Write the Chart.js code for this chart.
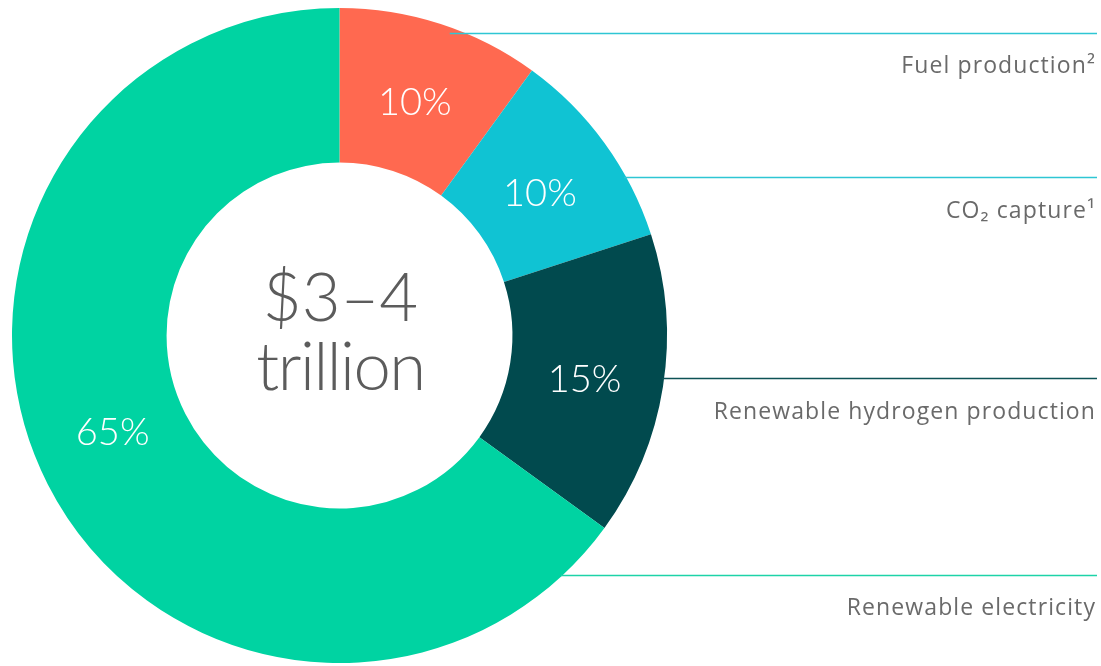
<!DOCTYPE html>
<html>
<head>
<meta charset="utf-8">
<script src="https://cdn.jsdelivr.net/npm/chart.js@4/dist/chart.umd.min.js"></script>
<style>
  html, body { margin: 0; padding: 0; background: #ffffff; }
  #wrap { position: relative; width: 1101px; height: 666px; }
</style>
</head>
<body>
<div id="wrap"><canvas id="c" width="1101" height="666"></canvas></div>
<script>
// Investment split by component
const categories = ['Fuel production²', 'CO₂ capture¹', 'Renewable hydrogen production', 'Renewable electricity'];
const shares = [10, 10, 15, 65];
const sliceColors = ['#ff6950', '#10c3d3', '#014a4e', '#00d3a2'];
const leaderColors = ['#2ec6d4', '#2ec6d4', '#0d5256', '#1dd3a8'];
const centerLines = ['$3–4', 'trillion'];

const FACE = 'Lato, "Open Sans", sans-serif';

// Value labels inside each slice, right-hand labels with leader lines, centre total
const overlay = {
  id: 'overlay',
  afterDatasetsDraw(chart) {
    const ctx = chart.ctx;
    const meta = chart.getDatasetMeta(0);
    const W = chart.width;
    const first = meta.data[0];
    const cx = first.x, cy = first.y;
    const R = first.outerRadius;

    // leader lines and category names, rows spaced down the right side
    const lineYs = [cy - R * 0.924, cy - R * 0.484, cy + R * 0.13, cy + R * 0.731];
    ctx.save();
    categories.forEach((name, i) => {
      const y = lineYs[i];
      const dy = y - cy;
      const xEdge = cx + Math.sqrt(Math.max(0, R * R - dy * dy)) - (i === 0 ? 15 : 2);
      ctx.strokeStyle = leaderColors[i];
      ctx.lineWidth = 1.4;
      ctx.beginPath();
      ctx.moveTo(xEdge, Math.round(y) + 0.5);
      ctx.lineTo(W - 4, Math.round(y) + 0.5);
      ctx.stroke();

      ctx.fillStyle = '#6a6a6a';
      ctx.font = '400 23px "Open Sans", Lato, sans-serif';
      ctx.letterSpacing = '1.1px';
      ctx.textAlign = 'right';
      ctx.textBaseline = 'middle';
      ctx.fillText(name, W - 5, y + 34);
    });
    ctx.letterSpacing = '0px';

    // percentage inside each slice
    ctx.fillStyle = '#ffffff';
    ctx.font = '300 38px ' + FACE;
    ctx.textAlign = 'center';
    ctx.textBaseline = 'middle';
    meta.data.forEach((arc, i) => {
      const p = arc.getProps(['startAngle', 'endAngle', 'innerRadius', 'outerRadius'], true);
      let mid = (p.startAngle + p.endAngle) / 2;
      let rad = (p.innerRadius + p.outerRadius) / 2;
      if (i === 3) { mid += 0.08; rad -= 7; }
      const x = cx + Math.cos(mid) * rad - 2;
      const y = cy + Math.sin(mid) * rad + 5;
      ctx.fillText(shares[i] + '%', x, y);
    });

    // total in the hole
    ctx.fillStyle = '#5c5c5c';
    ctx.font = '300 67px ' + FACE;
    ctx.fillText(centerLines[0], cx + 1, cy - 36);
    ctx.letterSpacing = '-1.5px';
    ctx.fillText(centerLines[1], cx + 1, cy + 33);
    ctx.letterSpacing = '0px';
    ctx.restore();
  }
};

new Chart(document.getElementById('c'), {
  type: 'doughnut',
  data: {
    labels: categories,
    datasets: [{
      data: shares,
      backgroundColor: sliceColors,
      borderWidth: 0
    }]
  },
  options: {
    responsive: false,
    animation: false,
    cutout: '52.8%',
    layout: { padding: { left: 12, top: 8, right: 434, bottom: 3 } },
    plugins: {
      legend: { display: false },
      tooltip: { enabled: false }
    }
  },
  plugins: [overlay]
});
</script>
</body>
</html>
